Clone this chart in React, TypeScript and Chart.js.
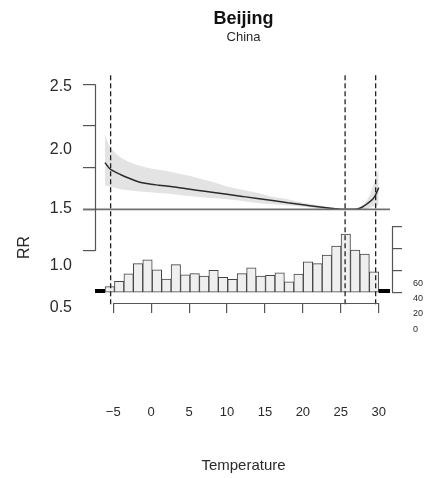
import React, { useEffect, useRef } from 'react';
import { Chart, registerables } from 'chart.js';

Chart.register(...registerables);

// ---- data ----
const TEMPS = [-6.1, -5.5, -5, -4, -3, -2, -1, 0, 1, 2, 4, 6, 8, 10, 12, 14, 16, 18, 20, 22, 24, 25.57, 26.5, 27.2, 27.8, 28.3, 28.8, 29.2, 29.6, 30.0];
const RR_FIT = [1.56, 1.49, 1.46, 1.415, 1.375, 1.34, 1.315, 1.3, 1.29, 1.28, 1.255, 1.23, 1.205, 1.18, 1.155, 1.13, 1.105, 1.08, 1.055, 1.03, 1.01, 1.0, 1.0, 1.005, 1.025, 1.055, 1.09, 1.12, 1.175, 1.26];
const RR_HIGH = [1.89, 1.76, 1.7, 1.62, 1.57, 1.535, 1.51, 1.49, 1.475, 1.46, 1.42, 1.38, 1.33, 1.275, 1.235, 1.2, 1.15, 1.12, 1.08, 1.05, 1.02, 1.0, 1.005, 1.02, 1.05, 1.09, 1.17, 1.27, 1.37, 1.47];
const RR_LOW = [1.29, 1.275, 1.265, 1.24, 1.23, 1.22, 1.21, 1.205, 1.195, 1.19, 1.17, 1.15, 1.135, 1.12, 1.1, 1.075, 1.06, 1.045, 1.03, 1.01, 1.0, 1.0, 0.995, 0.99, 0.995, 1.005, 1.02, 1.03, 1.04, 1.05];

const BIN_CENTERS = [-5.4675, -4.2225, -2.9775, -1.7325, -0.4875, 0.7575, 2.0025, 3.2475, 4.4925, 5.7375, 6.9825, 8.2275, 9.4725, 10.7175, 11.9625, 13.2075, 14.4525, 15.6975, 16.9425, 18.1875, 19.4325, 20.6775, 21.9225, 23.1675, 24.4125, 25.6575, 26.9025, 28.1475, 29.3925];
const BIN_COUNTS = [5.5, 10.3, 17.2, 26.4, 30.0, 20.9, 12.4, 25.5, 16.2, 17.3, 15.1, 20.3, 13.9, 12.1, 17.3, 22.7, 15.2, 15.8, 18.2, 10.0, 17.0, 28.2, 26.4, 34.3, 42.4, 53.4, 38.8, 35.2, 19.0];

const TAIL_LEFT_X = [-7.41, -6.09];
const TAIL_RIGHT_X = [30.0, 31.5];
const TAIL_COUNT = 1.5;

const CUTOFFS = [-5.35, 25.57, 29.6];
const REF_RR = 1;

const X_TICKS = [-5, 0, 5, 10, 15, 20, 25, 30];
const RR_TICKS = [0.5, 1, 1.5, 2, 2.5];
const RR_TICK_LABELS = ['0.5', '1.0', '1.5', '2.0', '2.5'];
const COUNT_TICKS = [0, 20, 40, 60];
const COUNT_TICK_LABELS = ['0', '20', '40', '60'];

// ---- layout constants (label anchors as drawn in the original) ----
const RR_LABEL_AT = [-0.1802, 0.3287, 1.0066, 1.7156, 2.476];
const COUNT_LABEL_AT = [-33.18, -19.09, -5.45, 8.18];

const X_MIN = -7.411;
const X_MAX = 31.755;
const RR_MIN = -0.1228;
const RR_MAX = 2.6078;
const C_MIN = -9.36;
const C_MAX = 197.9;

const FONT = "'Liberation Sans', Arial, Helvetica, sans-serif";
const TEXT = '#2a2a2a';
const AXIS = '#555555';

const decor = {
  id: 'decor',
  afterDatasetsDraw(chart: any) {
    const { ctx, chartArea: a, scales } = chart;
    const x = scales.x, y = scales.y, y2 = scales.y2;
    ctx.save();
    // reference line
    const yr = y.getPixelForValue(REF_RR);
    ctx.strokeStyle = '#707070';
    ctx.lineWidth = 1.6;
    ctx.beginPath();
    ctx.moveTo(a.left - 12, yr);
    ctx.lineTo(x.getPixelForValue(31.5), yr);
    ctx.stroke();
    // cutoff dashed lines
    ctx.setLineDash([5, 3]);
    ctx.strokeStyle = '#222';
    ctx.lineWidth = 1.3;
    CUTOFFS.forEach((c) => {
      const px = x.getPixelForValue(c);
      ctx.beginPath();
      ctx.moveTo(px, a.top);
      ctx.lineTo(px, a.bottom + 2);
      ctx.stroke();
    });
    ctx.setLineDash([]);
    // axis lines
    ctx.strokeStyle = AXIS;
    ctx.lineWidth = 1.2;
    const lx = Math.round(a.left) + 0.5;
    ctx.beginPath();
    ctx.moveTo(lx, y.getPixelForValue(RR_TICKS[RR_TICKS.length - 1]));
    ctx.lineTo(lx, y.getPixelForValue(RR_TICKS[0]));
    ctx.stroke();
    const rx = Math.round(a.right) + 0.5;
    ctx.beginPath();
    ctx.moveTo(rx, y2.getPixelForValue(COUNT_TICKS[COUNT_TICKS.length - 1]));
    ctx.lineTo(rx, y2.getPixelForValue(COUNT_TICKS[0]));
    ctx.stroke();
    const by = Math.round(a.bottom) + 0.5;
    ctx.beginPath();
    ctx.moveTo(x.getPixelForValue(X_TICKS[0]), by);
    ctx.lineTo(x.getPixelForValue(X_TICKS[X_TICKS.length - 1]), by);
    ctx.stroke();
    // y title
    ctx.translate(25, 247.5);
    ctx.rotate(-Math.PI / 2);
    ctx.fillStyle = TEXT;
    ctx.font = `16px ${FONT}`;
    ctx.textAlign = 'center';
    ctx.textBaseline = 'middle';
    ctx.fillText('RR', 0, 0);
    ctx.restore();
  },
};

export default function App() {
  const ref = useRef<HTMLCanvasElement | null>(null);
  useEffect(() => {
    if (!ref.current) return;
    const chart = new Chart(ref.current, {
      type: 'line',
      data: {
        datasets: [
          {
            type: 'line',
            data: TEMPS.map((t, i) => ({ x: t, y: RR_HIGH[i] })),
            borderWidth: 0,
            pointRadius: 0,
            backgroundColor: '#e3e3e3',
            fill: '+1',
            tension: 0.4,
            cubicInterpolationMode: 'monotone',
            yAxisID: 'y',
            order: 5,
          },
          {
            type: 'line',
            data: TEMPS.map((t, i) => ({ x: t, y: RR_LOW[i] })),
            borderWidth: 0,
            pointRadius: 0,
            fill: false,
            tension: 0.4,
            cubicInterpolationMode: 'monotone',
            yAxisID: 'y',
            order: 6,
          },
          {
            type: 'bar',
            data: BIN_CENTERS.map((c, i) => ({ x: c, y: BIN_COUNTS[i] })),
            backgroundColor: '#efefef',
            borderColor: '#444',
            borderWidth: 1,
            borderSkipped: false,
            barPercentage: 1,
            categoryPercentage: 1,
            yAxisID: 'y2',
            order: 4,
          },
          {
            type: 'line',
            data: TAIL_LEFT_X.map((t) => ({ x: t, y: TAIL_COUNT })),
            borderColor: '#000',
            borderWidth: 4,
            pointRadius: 0,
            yAxisID: 'y2',
            order: 3,
          },
          {
            type: 'line',
            data: TAIL_RIGHT_X.map((t) => ({ x: t, y: TAIL_COUNT })),
            borderColor: '#000',
            borderWidth: 4,
            pointRadius: 0,
            yAxisID: 'y2',
            order: 3,
          },
          {
            type: 'line',
            data: TEMPS.map((t, i) => ({ x: t, y: RR_FIT[i] })),
            borderColor: '#2b2b2b',
            borderWidth: 1.5,
            pointRadius: 0,
            fill: false,
            tension: 0.4,
            cubicInterpolationMode: 'monotone',
            yAxisID: 'y',
            order: 1,
          },
        ] as any,
      },
      options: {
        responsive: false,
        animation: false,
        devicePixelRatio: 1,
        layout: { padding: 0 },
        plugins: {
          legend: { display: false },
          tooltip: { enabled: false },
          title: {
            display: true,
            text: 'Beijing',
            fullSize: false,
            color: '#111',
            font: { family: FONT, size: 18, weight: 'bold' },
            padding: { top: 8, bottom: 0 },
          },
          subtitle: {
            display: true,
            text: 'China',
            fullSize: false,
            color: TEXT,
            font: { family: FONT, size: 13 },
            padding: { top: 0, bottom: 30 },
          },
        },
        scales: {
          x: {
            type: 'linear',
            min: X_MIN,
            max: X_MAX,
            offset: false,
            afterBuildTicks: (s: any) => {
              s.ticks = X_TICKS.map((v) => ({ value: v }));
            },
            afterFit: (s: any) => {
              s.height = 175;
              s.paddingLeft = 0;
              s.paddingRight = 0;
            },
            grid: { display: true, drawOnChartArea: false, drawTicks: true, tickLength: 10, color: AXIS, lineWidth: 1.2, offset: false },
            border: { display: false },
            ticks: {
              padding: 92,
              autoSkip: false,
              maxRotation: 0,
              color: TEXT,
              font: { family: FONT, size: 13 },
              callback: (v: any) => String(v).replace('-', '\u2212'),
            },
            title: {
              display: true,
              text: 'Temperature',
              color: TEXT,
              font: { family: FONT, size: 15 },
              padding: { top: 0, bottom: 3 },
            },
          },
          y: {
            type: 'linear',
            position: 'left',
            min: RR_MIN,
            max: RR_MAX,
            weight: 0,
            afterBuildTicks: (s: any) => {
              s.ticks = RR_TICKS.map((v) => ({ value: v }));
            },
            afterFit: (s: any) => {
              s.width = 15;
              s.paddingTop = 0;
              s.paddingBottom = 0;
            },
            grid: { drawOnChartArea: false, drawTicks: true, tickLength: 12, color: AXIS, lineWidth: 1.2 },
            border: { display: false },
            ticks: { display: false },
          },
          yLab: {
            type: 'linear',
            position: 'left',
            min: RR_MIN,
            max: RR_MAX,
            weight: 1,
            afterBuildTicks: (s: any) => {
              s.ticks = RR_LABEL_AT.map((v) => ({ value: v }));
            },
            afterFit: (s: any) => {
              s.width = 80;
              s.paddingTop = 0;
              s.paddingBottom = 0;
            },
            grid: { display: false, drawTicks: false, tickLength: 0 },
            border: { display: false },
            ticks: {
              padding: 8,
              autoSkip: false,
              color: TEXT,
              font: { family: FONT, size: 16 },
              callback: (_v: any, i: number) => RR_TICK_LABELS[i],
            },
          },
          y2: {
            type: 'linear',
            position: 'right',
            min: C_MIN,
            max: C_MAX,
            weight: 0,
            afterBuildTicks: (s: any) => {
              s.ticks = COUNT_TICKS.map((v) => ({ value: v }));
            },
            afterFit: (s: any) => {
              s.width = 12;
              s.paddingTop = 0;
              s.paddingBottom = 0;
            },
            grid: { drawOnChartArea: false, drawTicks: true, tickLength: 10, color: AXIS, lineWidth: 1.2 },
            border: { display: false },
            ticks: { display: false },
          },
          y2Lab: {
            type: 'linear',
            position: 'right',
            min: C_MIN,
            max: C_MAX,
            weight: 1,
            afterBuildTicks: (s: any) => {
              s.ticks = COUNT_LABEL_AT.map((v) => ({ value: v }));
            },
            afterFit: (s: any) => {
              s.width = 24;
              s.paddingTop = 0;
              s.paddingBottom = 0;
            },
            grid: { display: false, drawTicks: false, tickLength: 0 },
            border: { display: false },
            ticks: {
              padding: 9,
              autoSkip: false,
              color: TEXT,
              font: { family: FONT, size: 9 },
              callback: (_v: any, i: number) => COUNT_TICK_LABELS[i],
            },
          },
        },
      } as any,
      plugins: [decor],
    });
    return () => chart.destroy();
  }, []);
  return (
    <div style={{ position: 'fixed', left: 0, top: 0, width: 428, height: 478, background: '#fff' }}>
      <canvas ref={ref} width={428} height={478} />
    </div>
  );
}
